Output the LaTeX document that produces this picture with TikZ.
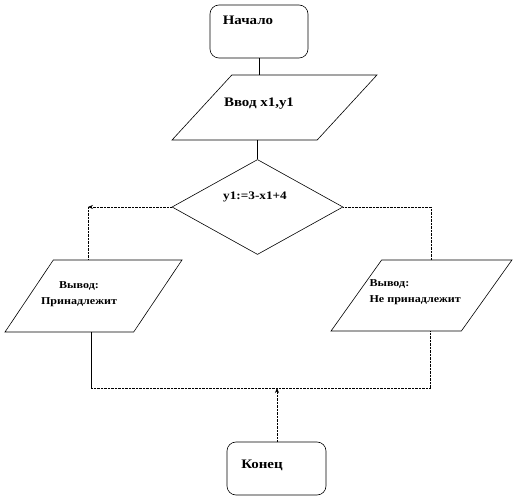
\documentclass[tikz,border=0pt]{standalone}
\usepackage{fontspec}
\setmainfont{Liberation Serif}[FakeStretch=1.15]
\usetikzlibrary{shapes.geometric,arrows.meta,positioning,calc}

\tikzset{
  termbox/.style={draw, line width=0.6pt, rounded corners=9pt, minimum width=98pt, minimum height=53pt, inner sep=0pt},
  iobox/.style={draw, line width=0.6pt, trapezium, trapezium stretches=true, inner sep=2pt},
  decbox/.style={draw, line width=0.6pt, diamond, minimum width=171pt, minimum height=95pt, inner sep=0pt},
  bigtxt/.style={font=\bfseries\fontsize{13}{15}\selectfont},
  smalltxt/.style={font=\bfseries\fontsize{10.5}{16}\selectfont},
  link/.style={line width=0.6pt},
  dotlink/.style={line width=0.7pt, dash pattern=on 0.7pt off 0.7pt},
  tip/.style={-{Stealth[length=5pt,width=4pt]}}
}

\begin{document}
\begin{tikzpicture}[x=1pt,y=-1pt]
    \useasboundingbox (0,0) rectangle (515,500);

    % terminals
    \node[termbox] (start) at (259,31.5) {};
    \node[bigtxt] (tstart) at (248,20) {Начало};
    \node[termbox, minimum width=99pt] (finish) at (276.5,468.5) {};
    \node[bigtxt] (tfinish) at (262,465) {Конец};

    % input
    \node[iobox, trapezium left angle=55, trapezium right angle=125,
          minimum width=205pt, minimum height=65pt] (input) at (274.5,107.5) {};
    \node[bigtxt] (tinput) at (259,104) {Ввод x1,y1};

    % decision
    \node[decbox] (dec) at (257.5,207) {};
    \node[bigtxt, font=\bfseries\fontsize{11.5}{14}\selectfont] (tdec) at (255,197) {y1:=3-x1+4};

    % outputs
    \node[iobox, trapezium left angle=59, trapezium right angle=121,
          minimum width=177pt, minimum height=72pt] (outl) at (93.5,296) {};
    \node[smalltxt, align=center] (toutl) at (79,294) {Вывод:\\ Принадлежит};
    \node[iobox, trapezium left angle=57.6, trapezium right angle=122.4,
          minimum width=181pt, minimum height=71pt] (outr) at (421.5,295.5) {};
    \node[smalltxt, align=left, anchor=west] (toutr) at (366,292) {Вывод:\\ Не принадлежит};

    % corners
    \coordinate (lcorner) at (88,207);
    \coordinate (rcorner) at (431,207);
    \coordinate (lbot) at (91,388);
    \coordinate (rbot) at (430,388);
    \coordinate (merge) at (277,388);

    % connectors
    \draw[link] (start.south) -- (start.south |- input.north);
    \draw[link] (input.south -| dec.north) -- (dec.north);
    \draw[dotlink, tip] (dec.west) -- (lcorner);
    \draw[dotlink] (lcorner) -- (lcorner |- outl.north);
    \draw[dotlink] (dec.east) -- (rcorner) -- (rcorner |- outr.north);
    \draw[link] (lbot |- outl.south) -- (lbot);
    \draw[dotlink] (lbot) -- (merge);
    \draw[dotlink] (rbot |- outr.south) -- (rbot) -- (merge);
    \draw[dotlink, tip] (finish.north -| merge) -- (merge);
\end{tikzpicture}
\end{document}
